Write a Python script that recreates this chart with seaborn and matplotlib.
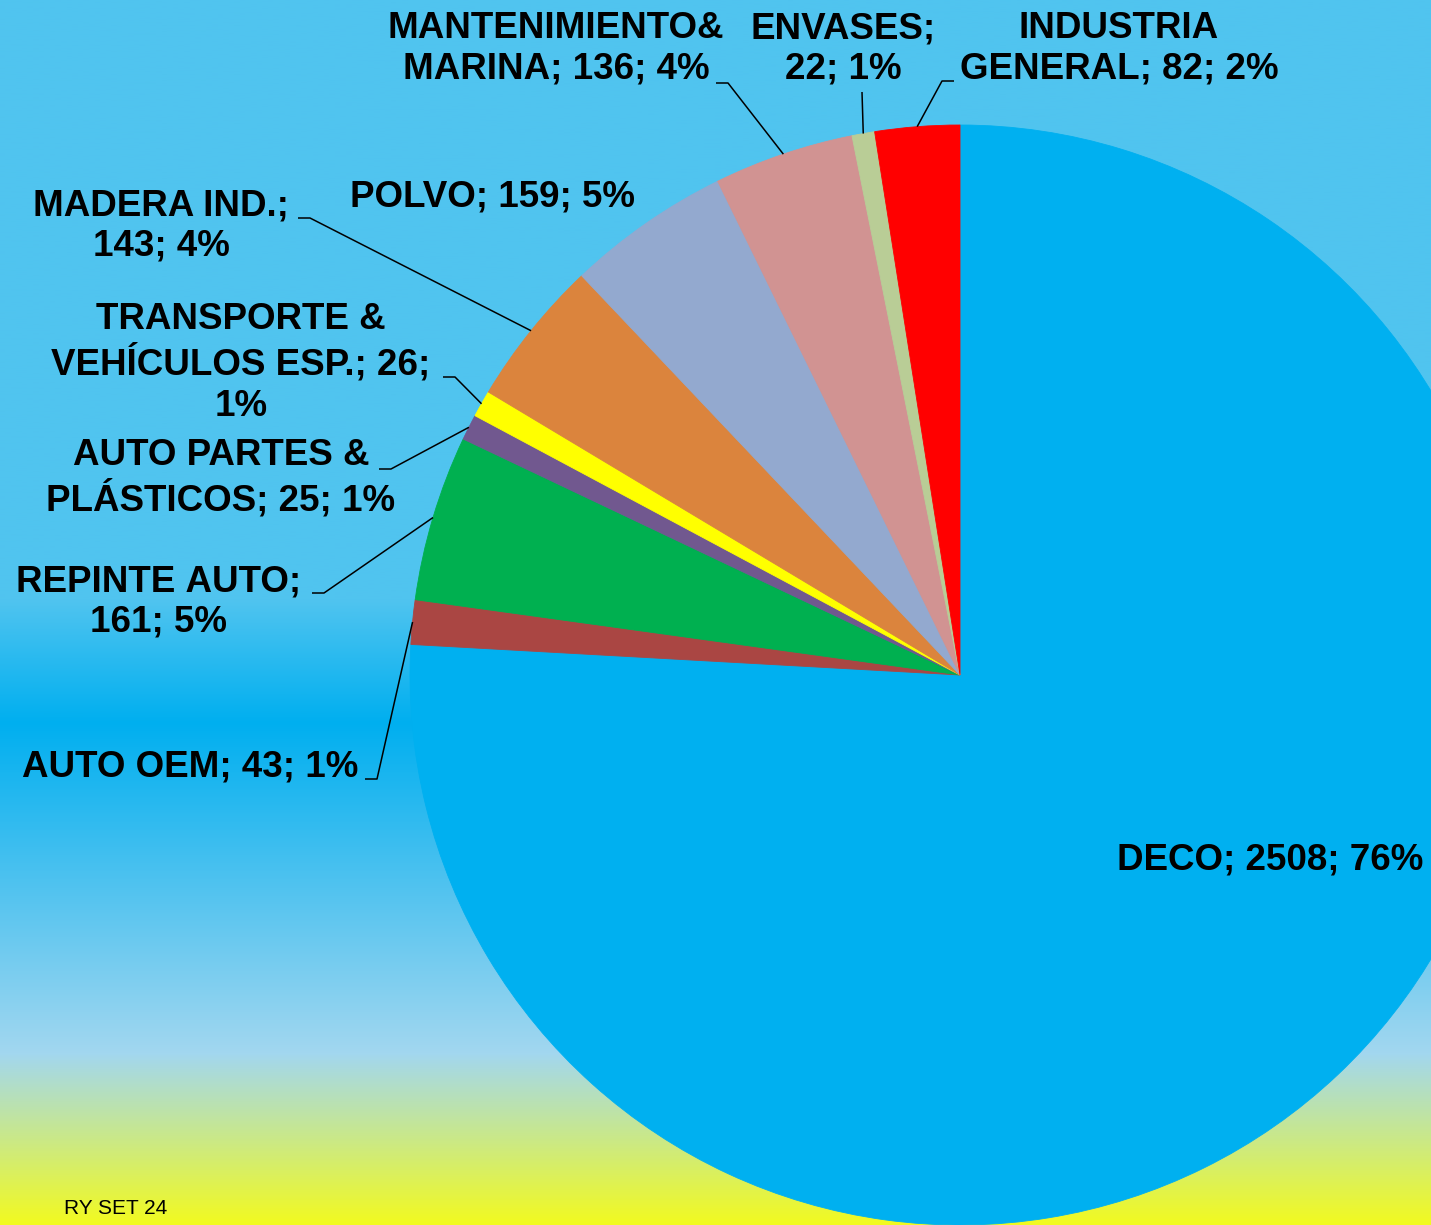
import numpy as np
import seaborn as sns
import matplotlib.pyplot as plt

# Datos (orden horario desde las 12)
nombres = ["DECO", "AUTO OEM", "REPINTE\u00a0AUTO", "AUTO PARTES &\nPLÁSTICOS",
           "TRANSPORTE &\nVEHÍCULOS ESP.", "MADERA IND.", "POLVO",
           "MANTENIMIENTO&\nMARINA", "ENVASES", "INDUSTRIA\nGENERAL"]
valores = [2508, 43, 161, 25, 26, 143, 159, 136, 22, 82]
colores = ["#00B0F0", "#AA4643", "#00B050", "#71588F", "#FFFF00",
           "#DB843D", "#93A9CF", "#D19392", "#B9CD96", "#FF0000"]
plantillas = ["{n}; {v}; {p}%", "{n}; {v}; {p}%", "{n};\n{v}; {p}%",
              "{n}; {v}; {p}%", "{n}; {v};\n{p}%", "{n};\n{v}; {p}%",
              "{n}; {v}; {p}%", "{n}; {v}; {p}%", "{n};\n{v}; {p}%",
              "{n}; {v}; {p}%"]

W, H = 1431, 1225

# posiciones de etiquetas (px, y hacia abajo) y guias (x0, x1, y)
pos_etiq = [(1270, 860), (190, 767), (159, 602), (221, 478), (241, 363),
            (161, 226), (492, 197), (556, 49), (843, 49), (1119, 49)]
guias = {1: (365, 377, 779), 2: (312, 324, 593), 3: (379, 391, 469),
         4: (443, 455, 377), 5: (298, 310, 218), 7: (716, 728, 83),
         8: (862, 862, 92), 9: (954, 942, 81)}

sns.set_theme(style="white")
plt.rcParams['font.family'] = ['Liberation Sans', 'DejaVu Sans']

fig = plt.figure(figsize=(W / 100, H / 100), dpi=100)

# fondo degradado
bg = fig.add_axes([0, 0, 1, 1])
paradas = [0.0, 0.49, 0.59, 0.86, 1.0]
tonos = np.array([[0x50, 0xC4, 0xEF], [0x50, 0xC4, 0xEF], [0x00, 0xAF, 0xEF],
                  [0xA2, 0xD7, 0xF0], [0xF2, 0xFA, 0x20]]) / 255
t = np.linspace(0, 1, 800)
grad = np.stack([np.interp(t, paradas, tonos[:, k]) for k in range(3)], axis=-1)
bg.imshow(grad[:, None, :], aspect='auto', extent=[0, 1, 0, 1])
bg.axis('off')

ax = fig.add_axes([0, 0, 1, 1])
ax.set_facecolor('none')
centro = (960, H - 675)
radio = 550
wedges, _ = ax.pie(valores, colors=colores, startangle=90, counterclock=False,
                   center=centro, radius=radio)
for w in wedges:
    w.set_edgecolor(w.get_facecolor())
    w.set_linewidth(0.6)

total = sum(valores)
for i, (n, v) in enumerate(zip(nombres, valores)):
    p = round(v / total * 100)
    texto = plantillas[i].format(n=n, v=v, p=p)
    x, y = pos_etiq[i]
    ax.text(x, H - y, texto, ha='center', va='center', multialignment='center',
            fontsize=26.5, fontweight='bold', color='black', linespacing=1.22)
    if i in guias:
        w = wedges[i]
        ang = np.deg2rad((w.theta1 + w.theta2) / 2)
        px_ = centro[0] + radio * np.cos(ang)
        py_ = centro[1] + radio * np.sin(ang)
        x0, x1, yg = guias[i]
        ax.plot([x0, x1, px_], [H - yg, H - yg, py_], color='black', lw=1.1,
                solid_capstyle='butt')

ax.text(64, H - 1208, "RY SET 24", ha='left', va='center', fontsize=15,
        color='black')

ax.set_xlim(0, W)
ax.set_ylim(0, H)
ax.set_axis_off()

fig.savefig("out.png", dpi=100)
